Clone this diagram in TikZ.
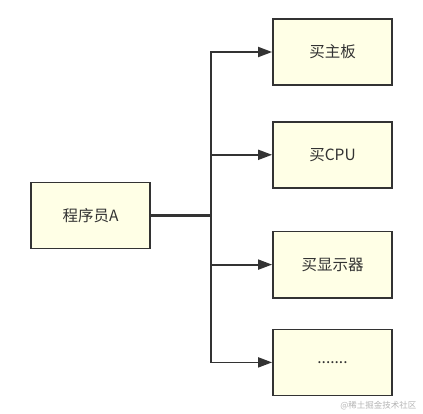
\documentclass[tikz,border=0pt]{standalone}
\usepackage{fontspec}
\setmainfont{Noto Sans CJK SC}
\usepackage{xcolor}
\usetikzlibrary{arrows.meta,positioning,calc}
\definecolor{boxfill}{HTML}{FFFFE6}
\definecolor{inkgray}{HTML}{333333}
\definecolor{markgray}{HTML}{B4B4B4}

\begin{document}
\begin{tikzpicture}[x=1pt, y=-1pt, box/.style={draw=inkgray, line width=1.8pt, minimum width=119pt, minimum height=66pt, align=center, font=\fontsize{15.5}{18}\selectfont, text=inkgray, fill=boxfill, inner sep=0pt}, link/.style={draw=inkgray, line width=2.6pt}, arrow/.style={draw=inkgray, line width=1.8pt, -{Triangle[length=14pt, width=10pt]}}]
\useasboundingbox (0,0) rectangle (423,414);
\node[box] (prog) at (90.5,215.5) {程序员A};
\node[box] (b1) at (332.5,52) {买主板};
\node[box, below=35pt of b1] (b2) {买CPU};
\node[box, below=42pt of b2] (b3) {买显示器};
\node[box, below=30pt of b3] (b4) {.......};
\coordinate (bus) at (211,215.5);
\node[font=\fontsize{8.5}{10}\selectfont, text=markgray, anchor=east] (mark) at (420,406) {@稀土掘金技术社区};
\draw[link] (prog.east) -- (bus);
\foreach \n in {b1,b2,b3,b4} \draw[arrow] (bus) |- (\n.west);
\end{tikzpicture}
\end{document}
